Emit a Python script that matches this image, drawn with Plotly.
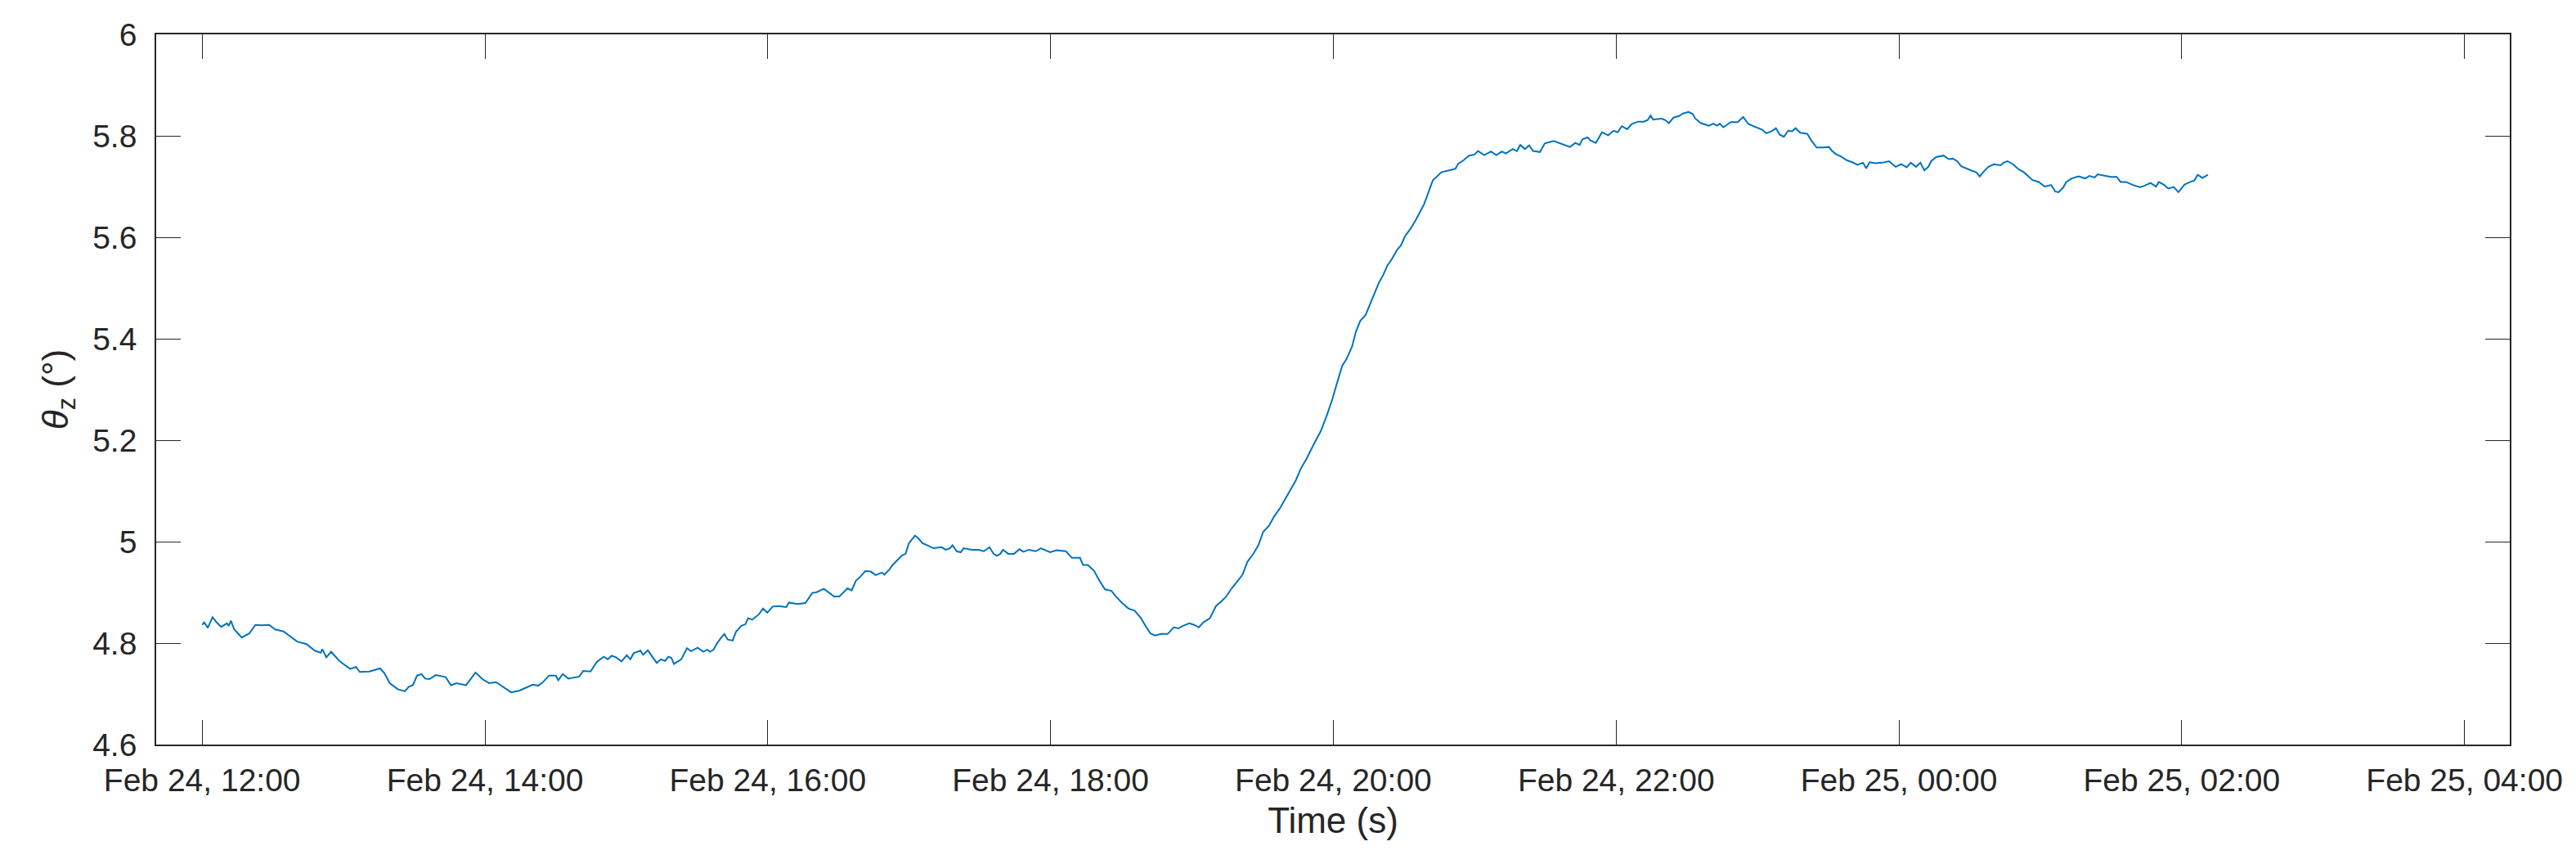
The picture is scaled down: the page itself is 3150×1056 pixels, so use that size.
"""Tilt angle theta_z over one night (Feb 24 -> Feb 25)."""

import pandas as pd
import plotly.graph_objects as go

START = "2024-02-24 12:00"

# minutes after Feb 24 12:00
elapsed_min = [
    0.0, 0.9, 2.4, 4.4, 6.1, 8.1, 10.5, 11.3, 12.2, 13.6, 16.8, 20.0, 22.6, 25.2, 28.4,
    31.0, 34.5, 36.8, 40.3, 44.3, 47.8, 50.3, 51.0, 52.7, 54.7, 58.2, 62.8, 65.3, 66.9,
    70.9, 75.5, 77.3, 79.6, 83.0, 86.0, 87.7, 89.4, 91.2, 93.1, 94.6, 96.4, 99.2, 103.3,
    105.6, 107.9, 112.0, 113.7, 116.0, 118.9, 121.8, 124.7, 127.6, 131.1, 134.5, 136.8,
    140.3, 142.6, 144.4, 147.2, 150.1, 151.1, 153.0, 155.4, 160.0, 161.7, 164.8, 167.5,
    170.4, 172.1, 173.8, 175.6, 177.9, 180.2, 181.7, 183.1, 186.0, 187.1, 189.1, 191.2,
    192.9, 194.7, 196.4, 197.9, 199.1, 200.2, 203.3, 205.7, 207.4, 210.3, 212.6, 214.3,
    215.5, 217.0, 218.4, 220.1, 221.6, 223.0, 225.1, 226.5, 228.8, 230.5, 231.7, 233.4,
    236.3, 238.0, 239.8, 242.1, 244.4, 247.9, 249.0, 252.5, 256.0, 258.9, 260.6, 263.8,
    265.8, 268.1, 270.4, 272.2, 273.9, 275.6, 277.4, 279.1, 281.4, 283.7, 285.8, 288.4,
    289.5, 291.6, 293.0, 294.7, 297.0, 298.5, 299.9, 301.1, 302.5, 304.0, 305.7, 308.0,
    310.3, 313.8, 315.5, 317.3, 318.4, 320.2, 321.9, 323.1, 326.5, 329.4, 331.7, 334.1,
    335.8, 337.2, 338.7, 339.8, 342.1, 344.5, 346.8, 348.5, 350.8, 353.7, 355.9, 359.8,
    362.5, 366.5, 369.1, 372.5, 373.8, 375.8, 378.4, 380.5, 383.1, 385.8, 387.7, 390.4,
    393.1, 395.7, 398.4, 400.4, 402.4, 404.3, 407.0, 409.7, 412.3, 414.3, 416.3, 418.9,
    420.9, 422.9, 424.9, 427.6, 430.2, 432.2, 434.2, 436.9, 439.5, 441.5, 443.5, 446.2,
    448.2, 450.2, 452.8, 454.8, 457.5, 460.1, 462.1, 464.1, 466.1, 468.8, 471.4, 474.7,
    477.4, 479.6, 481.4, 483.8, 485.6, 487.9, 489.6, 491.4, 493.7, 495.4, 497.2, 499.4,
    501.2, 502.9, 504.7, 507.0, 508.7, 510.4, 512.8, 515.1, 518.5, 522.2, 525.8, 527.8,
    531.8, 533.0, 535.3, 537.6, 539.9, 541.4, 544.0, 546.9, 549.2, 551.5, 553.2, 556.1,
    557.9, 559.3, 561.3, 563.1, 564.8, 567.7, 569.7, 573.5, 577.0, 580.4, 582.7, 584.5,
    585.7, 587.9, 589.1, 591.4, 594.0, 596.6, 598.9, 600.7, 602.4, 604.7, 606.5, 609.3,
    611.7, 613.4, 614.6, 615.7, 619.2, 620.9, 622.4, 624.4, 626.7, 628.4, 630.7, 632.5,
    633.6, 636.0, 639.4, 641.2, 642.9, 644.0, 645.5, 648.7, 651.6, 653.9, 656.2, 659.1,
    662.0, 663.7, 666.0, 667.8, 669.5, 671.2, 673.0, 674.7, 676.1, 678.2, 681.1, 682.8,
    685.1, 688.0, 690.3, 691.5, 693.2, 695.5, 697.8, 700.2, 702.4, 704.8, 706.1, 707.6,
    710.0, 712.9, 715.8, 718.6, 721.0, 723.3, 725.0, 727.3, 729.1, 730.8, 732.5, 733.7,
    735.8, 738.9, 741.2, 742.9, 744.7, 746.4, 748.7, 751.0, 752.8, 754.3, 755.7, 758.0,
    760.3, 763.2, 764.4, 766.1, 768.4, 770.8, 773.1, 774.8, 776.6, 779.4, 781.8, 784.6,
    786.4, 787.8, 789.8, 791.0, 793.3, 796.2, 799.1, 800.8, 803.1, 804.3, 807.2, 810.0,
    812.4, 814.1, 816.4, 819.3, 822.2, 823.9, 826.8, 829.1, 830.3, 832.6, 834.3, 836.6,
    838.6, 841.2, 843.6, 845.3, 846.8, 848.8, 851.1,
]

# theta_z in degrees
theta_z = [
    4.836, 4.841, 4.830, 4.851, 4.841, 4.832, 4.839, 4.834, 4.844, 4.827, 4.811, 4.819,
    4.836, 4.835, 4.836, 4.827, 4.823, 4.815, 4.803, 4.798, 4.785, 4.781, 4.788, 4.772,
    4.783, 4.765, 4.749, 4.753, 4.743, 4.744, 4.750, 4.741, 4.721, 4.709, 4.705, 4.714,
    4.717, 4.736, 4.739, 4.730, 4.729, 4.737, 4.733, 4.717, 4.721, 4.717, 4.727, 4.742,
    4.729, 4.721, 4.723, 4.714, 4.703, 4.706, 4.711, 4.718, 4.716, 4.722, 4.736, 4.736,
    4.727, 4.739, 4.730, 4.734, 4.745, 4.744, 4.763, 4.773, 4.768, 4.775, 4.772, 4.764,
    4.776, 4.768, 4.780, 4.785, 4.777, 4.786, 4.772, 4.761, 4.768, 4.765, 4.773, 4.771,
    4.759, 4.768, 4.790, 4.784, 4.791, 4.783, 4.787, 4.783, 4.787, 4.799, 4.810, 4.818,
    4.807, 4.805, 4.822, 4.834, 4.837, 4.849, 4.846, 4.857, 4.868, 4.860, 4.872, 4.873,
    4.871, 4.880, 4.877, 4.879, 4.899, 4.900, 4.907, 4.900, 4.892, 4.892, 4.900, 4.908,
    4.904, 4.923, 4.930, 4.942, 4.941, 4.934, 4.939, 4.935, 4.945, 4.954, 4.962, 4.973,
    4.976, 4.997, 5.004, 5.012, 5.006, 4.997, 4.992, 4.987, 4.989, 4.984, 4.987, 4.993,
    4.981, 4.979, 4.987, 4.984, 4.984, 4.981, 4.989, 4.976, 4.972, 4.976, 4.984, 4.976,
    4.976, 4.985, 4.980, 4.984, 4.981, 4.987, 4.979, 4.983, 4.981, 4.968, 4.968, 4.954,
    4.954, 4.943, 4.925, 4.906, 4.903, 4.892, 4.879, 4.868, 4.864, 4.849, 4.833, 4.819,
    4.815, 4.818, 4.818, 4.831, 4.829, 4.834, 4.839, 4.836, 4.831, 4.841, 4.849, 4.873,
    4.881, 4.890, 4.908, 4.923, 4.935, 4.960, 4.977, 4.993, 5.019, 5.032, 5.049, 5.067,
    5.089, 5.105, 5.121, 5.143, 5.165, 5.189, 5.218, 5.251, 5.281, 5.310, 5.347, 5.360,
    5.384, 5.414, 5.435, 5.447, 5.466, 5.484, 5.511, 5.526, 5.544, 5.556, 5.575, 5.584,
    5.602, 5.617, 5.635, 5.665, 5.712, 5.728, 5.730, 5.735, 5.745, 5.752, 5.761, 5.763,
    5.770, 5.762, 5.769, 5.762, 5.769, 5.765, 5.774, 5.770, 5.782, 5.774, 5.781, 5.770,
    5.768, 5.785, 5.790, 5.784, 5.778, 5.786, 5.782, 5.793, 5.797, 5.791, 5.786, 5.807,
    5.801, 5.810, 5.807, 5.819, 5.813, 5.823, 5.828, 5.828, 5.831, 5.840, 5.832, 5.834,
    5.831, 5.825, 5.836, 5.839, 5.844, 5.847, 5.843, 5.834, 5.825, 5.820, 5.824, 5.820,
    5.824, 5.817, 5.827, 5.827, 5.837, 5.823, 5.817, 5.812, 5.805, 5.809, 5.815, 5.802,
    5.798, 5.810, 5.809, 5.815, 5.806, 5.804, 5.791, 5.777, 5.777, 5.778, 5.771, 5.764,
    5.759, 5.752, 5.748, 5.743, 5.747, 5.736, 5.748, 5.746, 5.747, 5.750, 5.739, 5.744,
    5.738, 5.747, 5.739, 5.747, 5.732, 5.739, 5.750, 5.758, 5.761, 5.754, 5.755, 5.750,
    5.740, 5.735, 5.731, 5.728, 5.720, 5.728, 5.739, 5.744, 5.742, 5.747, 5.750, 5.744,
    5.734, 5.728, 5.721, 5.713, 5.709, 5.700, 5.703, 5.690, 5.689, 5.699, 5.709, 5.716,
    5.720, 5.716, 5.721, 5.718, 5.724, 5.721, 5.719, 5.719, 5.709, 5.709, 5.703, 5.699,
    5.701, 5.707, 5.700, 5.709, 5.703, 5.696, 5.699, 5.689, 5.704, 5.709, 5.712, 5.723,
    5.717, 5.723,
]

x_tick_vals = [
    "2024-02-24 12:00", "2024-02-24 14:00", "2024-02-24 16:00", "2024-02-24 18:00",
    "2024-02-24 20:00", "2024-02-24 22:00", "2024-02-25 00:00", "2024-02-25 02:00",
    "2024-02-25 04:00",
]
x_tick_text = [
    "Feb 24, 12:00", "Feb 24, 14:00", "Feb 24, 16:00", "Feb 24, 18:00", "Feb 24, 20:00",
    "Feb 24, 22:00", "Feb 25, 00:00", "Feb 25, 02:00", "Feb 25, 04:00",
]
y_tick_vals = [4.6, 4.8, 5.0, 5.2, 5.4, 5.6, 5.8, 6.0]
y_tick_text = ["4.6", "4.8", "5", "5.2", "5.4", "5.6", "5.8", "6"]

INK = "#262626"
FONT = "Liberation Sans, Arial, Helvetica, sans-serif"

times = pd.Timestamp(START) + pd.to_timedelta(elapsed_min, unit="min")

fig = go.Figure()
fig.add_trace(
    go.Scatter(
        x=times,
        y=theta_z,
        mode="lines",
        line={"color": "#0072BD", "width": 2},
        showlegend=False,
    )
)

axis_common = dict(
    showline=True,
    linecolor=INK,
    linewidth=1.6,
    mirror="ticks",
    ticks="inside",
    ticklen=30,
    tickwidth=1.3,
    tickcolor=INK,
    showgrid=False,
    zeroline=False,
    tickfont={"family": FONT, "size": 39, "color": INK},
)

fig.update_xaxes(
    **axis_common,
    type="date",
    range=["2024-02-24 11:40:30", "2024-02-25 04:19:12"],
    tickmode="array",
    tickvals=x_tick_vals,
    ticktext=x_tick_text,
    ticklabelstandoff=8,
    title={"text": "Time (s)", "font": {"family": FONT, "size": 44, "color": INK}, "standoff": 14},
)
fig.update_yaxes(
    **axis_common,
    range=[4.6, 6.0],
    tickmode="array",
    tickvals=y_tick_vals,
    ticktext=y_tick_text,
    ticklabelstandoff=14,
    title={
        "text": "<i>θ</i><sub>z</sub> (°)",
        "font": {"family": FONT, "size": 44, "color": INK},
        "standoff": 16,
    },
)

fig.update_layout(
    width=3150,
    height=1056,
    margin={"l": 183, "r": 89, "t": 34, "b": 154},
    plot_bgcolor="white",
    paper_bgcolor="white",
)

fig.write_html("out.html")
